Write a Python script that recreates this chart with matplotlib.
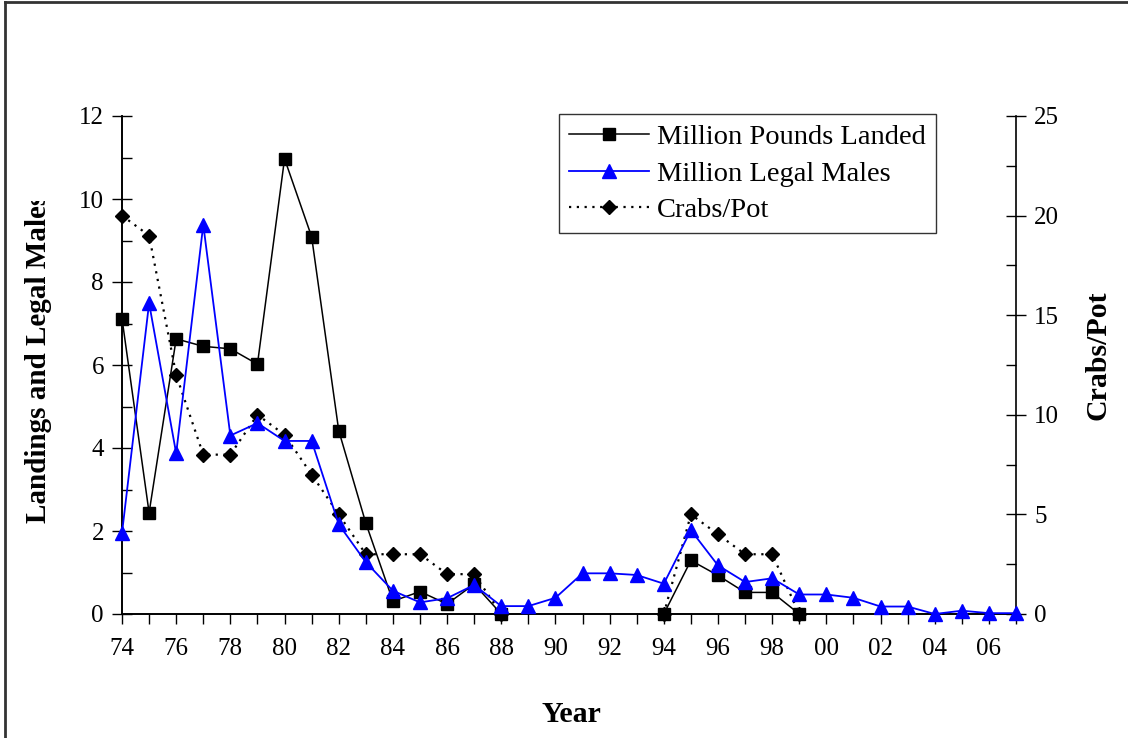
import numpy as np
import matplotlib.pyplot as plt
from matplotlib.lines import Line2D
from matplotlib.patches import Rectangle
from matplotlib.ticker import MultipleLocator

years = list(range(1974, 2008))

nan = np.nan
# million pounds landed (no fishery 1989-1993, no data after 1999)
pounds_landed = [7.12, 2.44, 6.63, 6.45, 6.39, 6.02, 10.97, 9.09, 4.42, 2.19,
                 0.31, 0.54, 0.24, 0.72, 0.0, nan, nan, nan, nan, nan,
                 0.0, 1.29, 0.93, 0.52, 0.52, 0.0, nan, nan, nan, nan,
                 nan, nan, nan, nan]
legal_males = [1.95, 7.49, 3.87, 9.38, 4.30, 4.60, 4.17, 4.17, 2.16, 1.25,
               0.56, 0.28, 0.38, 0.70, 0.19, 0.19, 0.39, 0.98, 0.98, 0.94,
               0.73, 2.02, 1.17, 0.77, 0.86, 0.47, 0.47, 0.39, 0.18, 0.18,
               0.0, 0.08, 0.02, 0.02]
crabs_per_pot = [20, 19, 12, 8, 8, 10, 9, 7, 5, 3,
                 3, 3, 2, 2, 0, nan, nan, nan, nan, nan,
                 0, 5, 4, 3, 3, 0, nan, nan, nan, nan,
                 nan, nan, nan, nan]

plt.rcParams['font.family'] = ['Liberation Serif', 'DejaVu Serif']

fig = plt.figure(figsize=(11.28, 7.38), dpi=100)
ax = fig.add_axes([122 / 1128, 1 - 614 / 738, (1016 - 122) / 1128, (614 - 116) / 738])
ax2 = ax.twinx()

# crabs/pot behind the other two
l3, = ax2.plot(years, crabs_per_pot, color="black", linestyle=(0, (1, 2.5)), linewidth=1.6,
               marker="D", markersize=7.5, zorder=2, clip_on=False)
l1, = ax.plot(years, pounds_landed, color="black", linewidth=1.1,
              marker="s", markersize=8.5, zorder=3, clip_on=False)
l2, = ax.plot(years, legal_males, color="#0000ff", linewidth=1.3,
              marker="^", markersize=9.5, zorder=4, clip_on=False)
ax.set_zorder(ax2.get_zorder() + 1)
ax.patch.set_visible(False)

ax.set_xlim(1974, 2007)
ax.set_ylim(0, 12)
ax2.set_ylim(0, 25)

ax.set_xticks(years)
ax.set_xticklabels([(str(y)[2:] if (y - 1974) % 2 == 0 else "") for y in years])
ax.tick_params(axis="x", direction="out", length=7, width=1, labelsize=18, pad=10)

ax.yaxis.set_major_locator(MultipleLocator(2))
ax.yaxis.set_minor_locator(MultipleLocator(1))
ax.tick_params(axis="y", which="major", direction="inout", length=14, width=1,
               labelsize=18, pad=6)
ax.tick_params(axis="y", which="minor", direction="in", length=7, width=1)

ax2.yaxis.set_major_locator(MultipleLocator(5))
ax2.yaxis.set_minor_locator(MultipleLocator(2.5))
ax2.tick_params(axis="y", which="major", direction="inout", length=14, width=1,
                labelsize=18, pad=6)
ax2.tick_params(axis="y", which="minor", direction="in", length=7, width=1)

for a in (ax, ax2):
    a.spines["top"].set_visible(False)
ax.spines["right"].set_visible(False)
for a in (ax, ax2):
    for s in ("left", "right", "bottom"):
        a.spines[s].set_linewidth(1.2)

# axis titles
fig.text(39 / 1128, 1 - 523 / 738, "Landings and Legal Males", rotation=90,
         fontsize=21, fontweight="bold", ha="center", va="bottom")
# the original chart cuts the top of the left title off
fig.add_artist(Rectangle((12 / 1128, 1 - 201 / 738), 50 / 1128, 190 / 738,
                         transform=fig.transFigure, facecolor="white",
                         edgecolor="none", zorder=5))
fig.text(1098 / 1128, 1 - 355 / 738, "Crabs/Pot", rotation=90,
         fontsize=21.5, fontweight="bold", ha="center", va="center")
fig.text(571 / 1128, 1 - 714 / 738, "Year", fontsize=21.5, fontweight="bold",
         ha="center", va="center")

leg = fig.legend([l1, l2, l3],
                 ["Million Pounds Landed", "Million Legal Males", "Crabs/Pot"],
                 loc="upper left", bbox_to_anchor=(559 / 1128, 1 - 114 / 738),
                 fontsize=20.5, frameon=True, fancybox=False, shadow=False,
                 handlelength=2.8, handletextpad=0.3, labelspacing=0.38,
                 borderpad=0.35, borderaxespad=0)
leg.get_frame().set_edgecolor("black")
leg.get_frame().set_linewidth(1.0)

# outer frame (top and left edges of the chart area)
fig.add_artist(Line2D([5 / 1128, 5 / 1128], [0, 1 - 1.5 / 738], transform=fig.transFigure,
                      color="#333333", linewidth=2))
fig.add_artist(Line2D([5 / 1128, 1], [1 - 1.5 / 738, 1 - 1.5 / 738], transform=fig.transFigure,
                      color="#333333", linewidth=2))

fig.savefig("out.png", dpi=100)
